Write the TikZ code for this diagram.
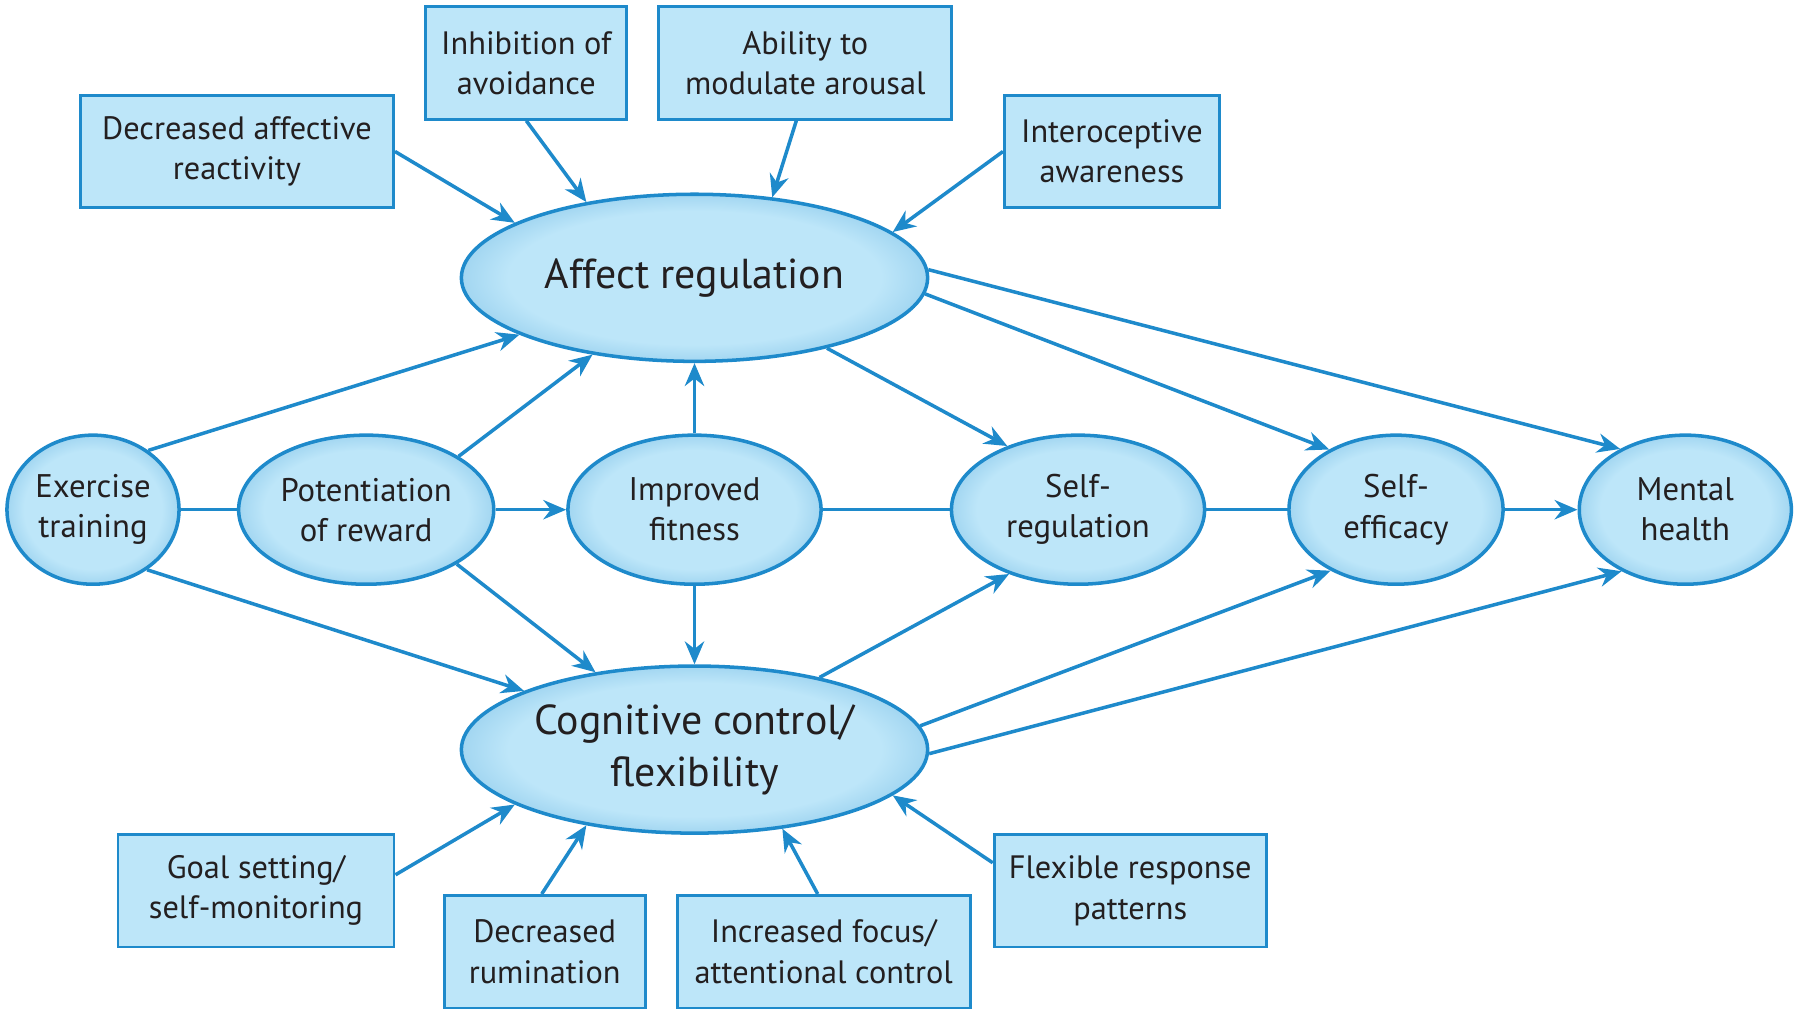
\documentclass[tikz,border=0pt]{standalone}
\usepackage{fontspec}
\setmainfont{PT Sans}
\usetikzlibrary{shapes.geometric}
\usetikzlibrary{arrows.meta}

\definecolor{lineblue}{HTML}{1E8ACB}
\definecolor{fillblue}{HTML}{BDE6F9}
\definecolor{edgeblue}{HTML}{A2D6F1}
\definecolor{textblack}{HTML}{231F20}
\pgfdeclareradialshading{glow}{\pgfpoint{0bp}{0bp}}{color(0bp)=(fillblue); color(20bp)=(fillblue); color(25bp)=(edgeblue); color(50bp)=(edgeblue)}

\begin{document}
\begin{tikzpicture}[x=0.01cm, y=-0.01cm,
  oval/.style={ellipse, draw=lineblue, line width=1pt, shade, shading=glow, text=textblack, align=center, inner sep=0pt, minimum height=1.49cm, font=\fontsize{9.3}{11.4}\selectfont},
  bigoval/.style={oval, minimum width=4.66cm, minimum height=1.67cm, font=\fontsize{11.9}{14.7}\selectfont},
  factor/.style={rectangle, draw=lineblue, line width=0.8pt, fill=fillblue, text=textblack, align=center, inner sep=0pt, minimum height=1.125cm, font=\fontsize{9.2}{11.4}\selectfont},
  link/.style={draw=lineblue, line width=1pt},
  arr/.style={link, -{Stealth[length=6.5pt, width=5.5pt]}}]
\useasboundingbox (0,0) rectangle (1800,1016);

\node[bigoval] (aff) at (694.5,277.8) {Affect regulation};
\node[bigoval] (cog) at (694.5,749.6) {Cognitive control/\\flexibility};

\node[oval, minimum width=1.72cm] (ex) at (93,509.7) {Exercise\\training};
\node[oval, minimum width=2.55cm] (pot) at (366.2,509.7) {Potentiation\\of reward};
\node[oval, minimum width=2.53cm] (fit) at (694.5,509.7) {Improved\\fitness};
\node[oval, minimum width=2.53cm] (sreg) at (1078,509.7) {Self-\\regulation};
\node[oval, minimum width=2.14cm] (seff) at (1396,509.7) {Self-\\efficacy};
\node[oval, minimum width=2.12cm] (mh) at (1685.3,509.7) {Mental\\health};

\node[factor, minimum width=3.13cm] (dar) at (237,151.5) {Decreased affective\\reactivity};
\node[factor, minimum width=2.01cm] (ioa) at (526.3,63.1) {Inhibition of\\avoidance};
\node[factor, minimum width=2.93cm] (mod) at (805.3,63.1) {Ability to\\modulate arousal};
\node[factor, minimum width=2.15cm] (int) at (1111.9,151.5) {Interoceptive\\awareness};
\node[factor, minimum width=2.76cm] (goal) at (256,890.8) {Goal setting/\\self-monitoring};
\node[factor, minimum width=2.01cm] (rum) at (544.7,951.7) {Decreased\\rumination};
\node[factor, minimum width=2.93cm] (foc) at (823.7,951.7) {Increased focus/\\attentional control};
\node[factor, minimum width=2.72cm] (flex) at (1130.2,890.8) {Flexible response\\patterns};

\draw[arr] (dar.east) -- (aff.163);
\draw[arr] (ioa.south) -- (aff.145);
\draw[arr] ([xshift=-0.09cm]mod.south) -- (aff.46);
\draw[arr] (int.west) -- (aff.13);
\draw[arr] ([yshift=0.16cm]goal.east) -- (cog.197);
\draw[arr] ([xshift=-0.03cm]rum.north) -- (cog.215);
\draw[arr] ([xshift=-0.06cm]foc.north) -- (cog.318);
\draw[arr] ([yshift=0.28cm]flex.west) -- (cog.347);

\draw[arr] (ex.47) -- (aff.198);
\draw[link] (ex) -- (pot);
\draw[arr] (ex.312) -- (cog.161);
\draw[arr] (pot.30) -- (aff.217);
\draw[arr] (pot) -- (fit);
\draw[arr] (pot.329) -- (cog.142);
\draw[arr] (fit) -- (aff);
\draw[arr] (fit) -- (cog);
\draw[link] (fit) -- (sreg);
\draw[arr] (aff.332) -- (sreg.138);
\draw[arr] (aff.356) -- (seff.138);
\draw[arr] (aff.2) -- (mh.137);
\draw[link] (sreg) -- (seff);
\draw[arr] (seff) -- (mh);
\draw[arr] (cog.30) -- (sreg.223);
\draw[arr] (cog.6) -- (seff.223);
\draw[arr] (cog.359) -- (mh.224);
\end{tikzpicture}
\end{document}
